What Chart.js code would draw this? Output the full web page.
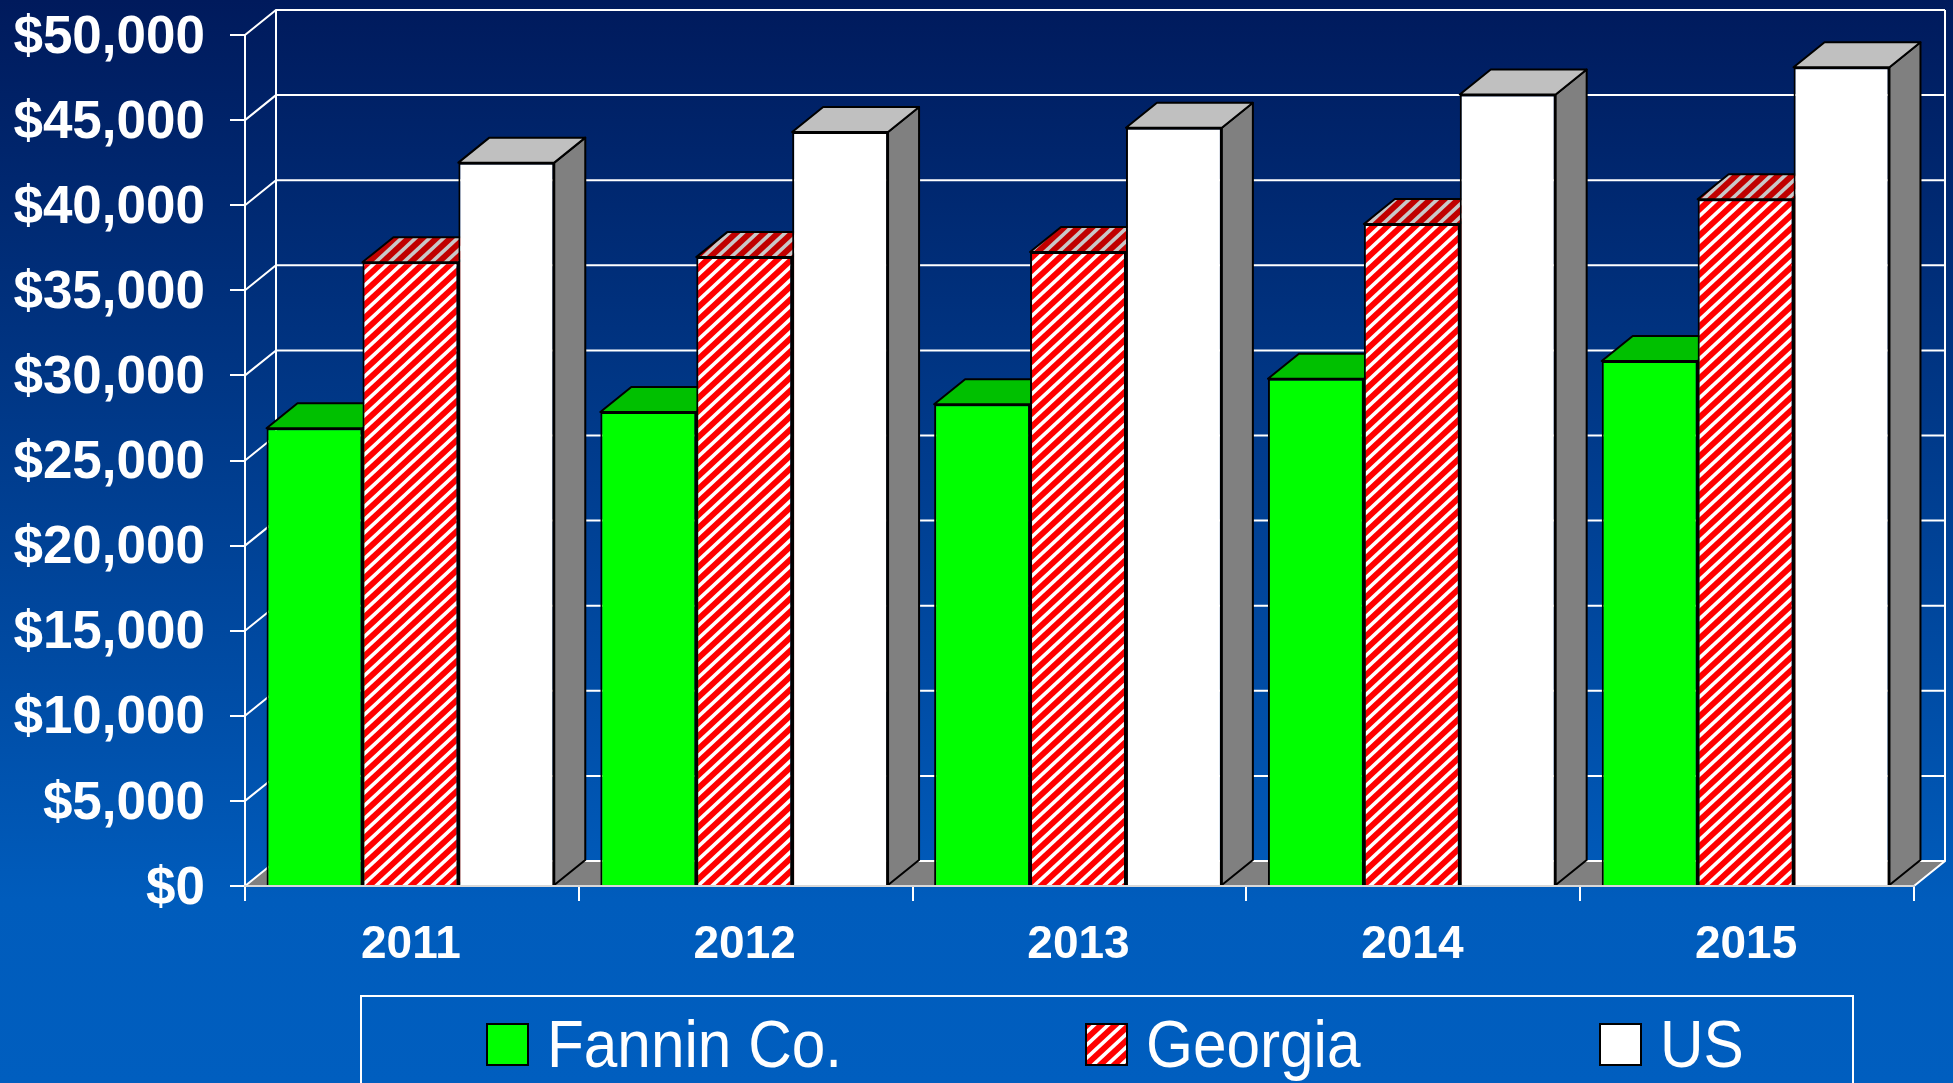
<!DOCTYPE html>
<html><head><meta charset="utf-8">
<style>
html,body{margin:0;padding:0;width:1953px;height:1083px;overflow:hidden;background:linear-gradient(180deg,#001a5c 0px,#005cbc 900px,#005ebf 1083px);}
canvas{display:block}
</style>
<script src="https://cdn.jsdelivr.net/npm/chart.js@4/dist/chart.umd.min.js"></script>
</head><body>
<div style="width:1953px;height:1083px"><canvas id="c" width="1953" height="1083"></canvas></div>
<script>
const years = ['2011','2012','2013','2014','2015'];
const seriesNames = ['Fannin Co.','Georgia','US'];
const fannin = [26900,27850,28300,29800,30850];
const georgia = [36650,36950,37250,38900,40350];
const us = [42500,44300,44550,46500,48100];
const yMax = 50000, yStep = 5000;

const DX = 31, DY = 25, BAR_SHIFT = -1.5;
function stripes(red, white){
  const w = 14, h = 13, c = document.createElement('canvas');
  c.width = w; c.height = h;
  const g = c.getContext('2d');
  g.fillStyle = red; g.fillRect(0,0,w,h);
  g.strokeStyle = white; g.lineWidth = 3.6;
  for (let i=-1;i<=1;i++){ g.beginPath(); g.moveTo(i*w-w/8,h+h/8); g.lineTo(i*w+w+w/8,-h/8); g.stroke(); }
  return document.createElement('canvas').getContext('2d').createPattern(c,'repeat');
}
const redFront = stripes('#ff0000','#ffffff');
const redTop = stripes('#c00000','#c8c8c8');
const faces = [
  {front:'#00ff00', top:'#00c000', side:'#00a000'},
  {front:redFront,  top:redTop,    side:'#a00000'},
  {front:'#ffffff', top:'#c0c0c0', side:'#808080'}
];
function poly(ctx, pts, fill, stroke){
  ctx.beginPath();
  pts.forEach((p,i)=> i?ctx.lineTo(p[0],p[1]):ctx.moveTo(p[0],p[1]));
  ctx.closePath();
  if (fill){ ctx.fillStyle = fill; ctx.fill(); }
  if (stroke){ ctx.strokeStyle = stroke; ctx.lineWidth = 2; ctx.stroke(); }
}
const wallsAndBlocks = {
  id:'walls',
  afterDatasetsUpdate(chart){
    chart.data.datasets.forEach((ds,i)=>{
      chart.getDatasetMeta(i).data.forEach(bar=>{ bar.x += BAR_SHIFT; });
    });
  },
  beforeDatasetsDraw(chart){
    const {ctx, chartArea:a, scales:{y}} = chart;
    ctx.save();
    const y0 = y.getPixelForValue(0);
    poly(ctx,[[a.left,y0],[a.left+DX,y0-DY],[a.right+DX,y0-DY],[a.right,y0]],'#808080');
    ctx.strokeStyle = '#ffffff'; ctx.lineWidth = 2;
    ctx.beginPath();
    y.ticks.forEach(t=>{
      const p = y.getPixelForValue(t.value);
      ctx.moveTo(a.left,p); ctx.lineTo(a.left+DX,p-DY); ctx.lineTo(a.right+DX,p-DY);
    });
    const top = y.getPixelForValue(yMax);
    ctx.moveTo(a.left+DX,top-DY); ctx.lineTo(a.left+DX,y0-DY);
    ctx.moveTo(a.right+DX,top-DY); ctx.lineTo(a.right+DX,y0-DY); ctx.lineTo(a.right,y0);
    ctx.stroke();
    ctx.lineJoin = 'round';
    chart.data.datasets.forEach((ds,i)=>{
      chart.getDatasetMeta(i).data.forEach(bar=>{
        const {x, y:t, base, width} = bar.getProps(['x','y','base','width']);
        const l = x-width/2, r = x+width/2;
        poly(ctx,[[r,t],[r+DX,t-DY],[r+DX,base-DY],[r,base]],faces[i].side,'#000');
        poly(ctx,[[l,t],[l+DX,t-DY],[r+DX,t-DY],[r,t]],faces[i].top,'#000');
      });
    });
    ctx.restore();
  }
};
const legendBox = {
  id:'legendBox',
  afterDraw(chart){
    const ctx = chart.ctx;
    ctx.save();
    ctx.strokeStyle = '#ffffff'; ctx.lineWidth = 2;
    ctx.beginPath(); ctx.moveTo(361,1090); ctx.lineTo(361,996); ctx.lineTo(1853,996); ctx.lineTo(1853,1090); ctx.stroke();
    const swatchX = [487,1086,1600], textX = [547,1146,1660];
    seriesNames.forEach((n,i)=>{
      ctx.fillStyle = faces[i].front;
      ctx.strokeStyle = '#000'; ctx.lineWidth = 2;
      ctx.fillRect(swatchX[i],1024,41,41);
      ctx.strokeRect(swatchX[i],1024,41,41);
      ctx.save();
      ctx.translate(textX[i],1067);
      ctx.scale(0.9,1);
      ctx.fillStyle = '#ffffff';
      ctx.font = '67px "Liberation Sans"';
      ctx.textAlign = 'left'; ctx.textBaseline = 'alphabetic';
      ctx.fillText(n,0,0);
      ctx.restore();
    });
    ctx.restore();
  }
};
const data = {labels:years, datasets:[fannin,georgia,us].map((v,i)=>({
  label:seriesNames[i], data:v, backgroundColor:faces[i].front, borderColor:'#000', borderWidth:2,
  borderSkipped:'bottom', categoryPercentage:0.862, barPercentage:1
}))};
new Chart(document.getElementById('c'),{
  type:'bar', data,
  plugins:[wallsAndBlocks, legendBox],
  options:{
    responsive:false, animation:false, devicePixelRatio:1,
    layout:{autoPadding:false,padding:{top:35,right:39,left:0,bottom:0}},
    plugins:{legend:{display:false},title:{display:false},tooltip:{enabled:false}},
    scales:{
      x:{
        afterFit(s){ s.height = 197; s.paddingLeft = 0; s.paddingRight = 0; },
        grid:{drawOnChartArea:false,drawTicks:true,tickLength:15,color:'#ffffff',lineWidth:2},
        border:{color:'#d8d8d8',width:2,z:1},
        ticks:{color:'#ffffff',font:{family:'"Liberation Sans"',weight:'bold',size:46},padding:17,labelOffset:-1,maxRotation:0}
      },
      y:{
        min:0,max:yMax,
        afterFit(s){ s.width = 245; s.paddingTop = 0; s.paddingBottom = 0; s._margins = {left:0,right:0,top:0,bottom:0}; },
        grid:{drawOnChartArea:false,drawTicks:true,tickLength:15,color:'#ffffff',lineWidth:2},
        border:{color:'#ffffff',width:2},
        ticks:{stepSize:yStep,color:'#ffffff',font:{family:'"Liberation Sans"',weight:'bold',size:53},padding:25,labelOffset:3,
          callback:v=>'$'+Number(v).toLocaleString('en-US')}
      }
    }
  }
});
</script>
</body></html>
